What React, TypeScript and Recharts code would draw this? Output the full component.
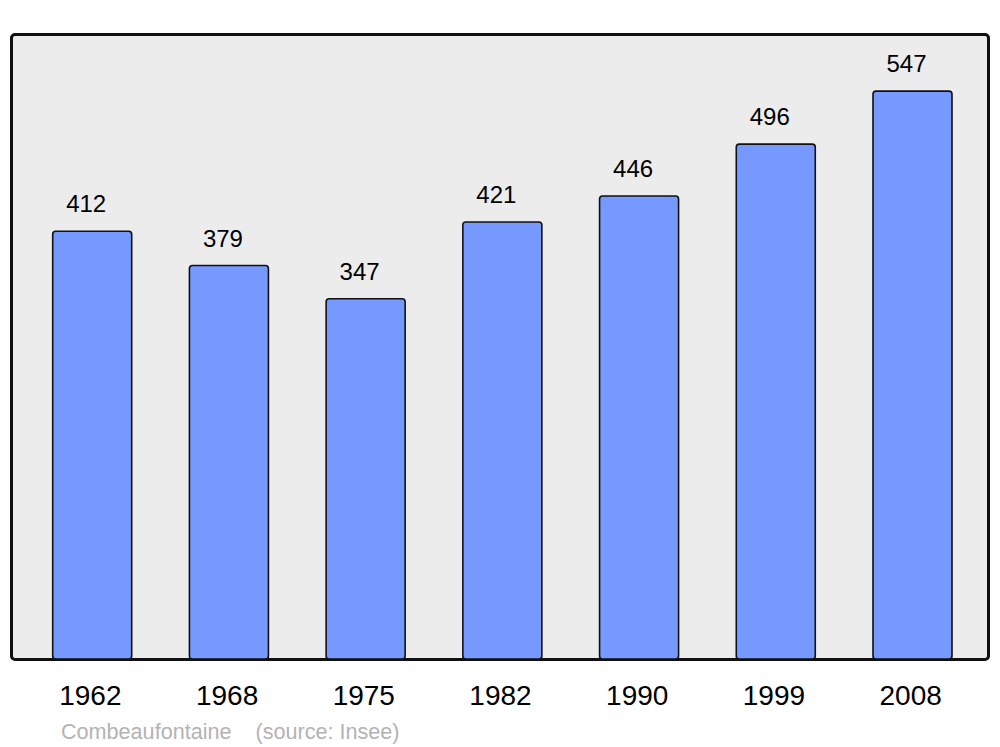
import { BarChart, Bar, XAxis, YAxis, LabelList } from 'recharts';

const years = ['1962', '1968', '1975', '1982', '1990', '1999', '2008'];
const population = [412, 379, 347, 421, 446, 496, 547];

const data = years.map((year, i) => ({ year, population: population[i] }));

const FONT = '"Liberation Sans", Arial, sans-serif';

export default function App() {
  return (
    <div style={{ position: 'absolute', left: 0, top: 0, width: 1000, height: 747, background: '#fff' }}>
      {/* fond gris encadré */}
      <div
        style={{
          position: 'absolute',
          left: 10,
          top: 33,
          width: 980,
          height: 628,
          boxSizing: 'border-box',
          background: '#ececec',
          border: '3px solid #111',
          borderRadius: 5,
        }}
      />
      <div style={{ position: 'absolute', left: 0, top: 0 }}>
        <BarChart
          width={1000}
          height={747}
          data={data}
          margin={{ top: 33, right: 19, left: 24, bottom: 0 }}
          barCategoryGap="21%"
        >
          <XAxis
            dataKey="year"
            axisLine={false}
            tickLine={false}
            tickSize={0}
            tickMargin={26}
            height={88}
            interval={0}
            dx={-2}
            tick={{ fontSize: 28, fill: '#000', fontFamily: FONT }}
          />
          <YAxis hide domain={[0, 603]} />
          <Bar
            dataKey="population"
            fill="#7599ff"
            stroke="#111"
            strokeWidth={1.6}
            radius={3}
            isAnimationActive={false}
          >
            <LabelList
              dataKey="population"
              position="top"
              offset={19}
              dx={-6}
              style={{ fontSize: 24, fill: '#000', fontFamily: FONT }}
            />
          </Bar>
        </BarChart>
      </div>
      <div
        style={{
          position: 'absolute',
          left: 61,
          top: 721,
          fontSize: 21.6,
          lineHeight: '21px',
          color: '#b3b3b3',
          fontFamily: FONT,
          whiteSpace: 'pre',
        }}
      >
        {'Combeaufontaine    (source: Insee)'}
      </div>
    </div>
  );
}
